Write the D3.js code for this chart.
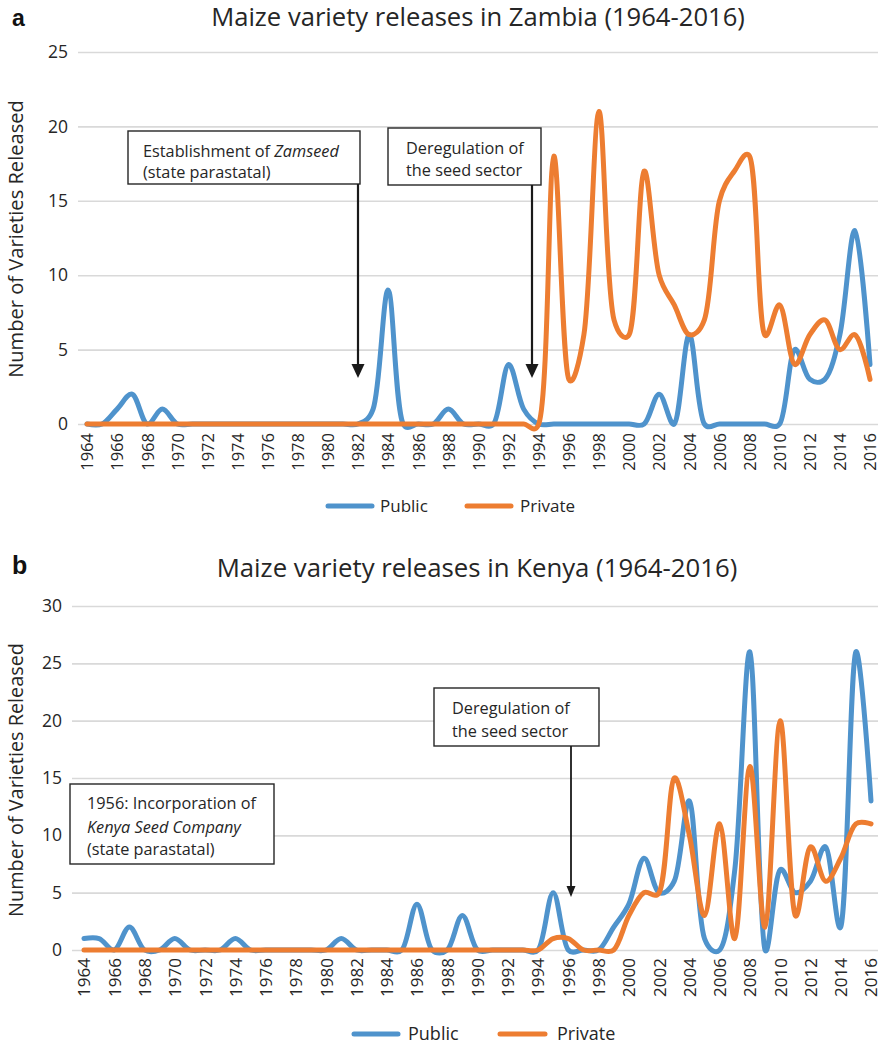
<!DOCTYPE html>
<html><head><meta charset="utf-8">
<script src="https://cdn.jsdelivr.net/npm/d3@7"></script>
<style>
body{margin:0;background:#fff}
svg{display:block}
text{font-family:"Open Sans",sans-serif;fill:#262626}
</style>
</head><body>
<svg id="c" width="885" height="1045"></svg>
<script>
// ---------------- DATA ----------------
const years = [1964,1965,1966,1967,1968,1969,1970,1971,1972,1973,1974,1975,1976,1977,1978,1979,1980,1981,1982,1983,1984,1985,1986,1987,1988,1989,1990,1991,1992,1993,1994,1995,1996,1997,1998,1999,2000,2001,2002,2003,2004,2005,2006,2007,2008,2009,2010,2011,2012,2013,2014,2015,2016];
const xTickYears = [1964,1966,1968,1970,1972,1974,1976,1978,1980,1982,1984,1986,1988,1990,1992,1994,1996,1998,2000,2002,2004,2006,2008,2010,2012,2014,2016];
const seriesNames = ["Public","Private"];

const zambiaPublic  = [0,0,1,2,0,1,0,0,0,0,0,0,0,0,0,0,0,0,0,1,9,0,0,0,1,0,0,0,4,1,0,0,0,0,0,0,0,0,2,0,6,0,0,0,0,0,0,5,3,3,6,13,4];
const zambiaPrivate = [0,0,0,0,0,0,0,0,0,0,0,0,0,0,0,0,0,0,0,0,0,0,0,0,0,0,0,0,0,0,0,18,3,6,21,7,6,17,10,8,6,7,15,17,18,6,8,4,6,7,5,6,3];
const zambiaYTicks = [0,5,10,15,20,25];

const kenyaPublic  = [1,1,0,2,0,0,1,0,0,0,1,0,0,0,0,0,0,1,0,0,0,0,4,0,0,3,0,0,0,0,0,5,0,0,0,2,4,8,5,6,13,1,0,7,26,0,7,5,6,9,2,26,13];
const kenyaPrivate = [0,0,0,0,0,0,0,0,0,0,0,0,0,0,0,0,0,0,0,0,0,0,0,0,0,0,0,0,0,0,0,1,1,0,0,0,3,5,5,15,10,3,11,1,16,2,20,3,9,6,8,11,11];
const kenyaYTicks = [0,5,10,15,20,25,30];

const colors = ["#4f93cc","#ed7d31"];

// ---------------- DRAW ----------------
const svg = d3.select("#c");

function fitText(sel, w){
  const l = sel.node().getComputedTextLength();
  const fs = parseFloat(sel.style("font-size"));
  sel.style("font-size", (fs*w/l)+"px");
  return fs*w/l;
}

function chart(o){
  const x = d3.scaleLinear().domain([years[0], years[years.length-1]]).range([o.x0, o.x1]);
  const y = d3.scaleLinear().domain([0, o.yMax]).range([o.y0, o.yTop]);
  const g = svg.append("g");

  g.append("text").attr("x",12).attr("y",o.letterY).text(o.letter)
    .style("font-family","'Liberation Sans',Arial,sans-serif").style("font-weight","bold")
    .style("font-size",o.letterSize+"px").style("fill","#111");

  const t = g.append("text").attr("x",o.titleX).attr("y",o.titleY).attr("text-anchor","middle")
    .style("font-size","21px").text(o.title);
  fitText(t, o.titleW);

  const ya = g.append("g").attr("transform",`translate(${o.gx0},0)`)
    .call(d3.axisLeft(y).tickValues(o.yTicks).tickSize(-(o.gx1-o.gx0)).tickPadding(10));
  ya.select(".domain").remove();
  ya.selectAll(".tick line").attr("stroke","#d9d9d9").attr("stroke-width",1.6);
  ya.selectAll(".tick text").style("font-size","17.5px").style("font-family","'Open Sans',sans-serif").attr("fill","#262626");

  const xa = g.append("g").attr("transform",`translate(0,${o.y0})`)
    .call(d3.axisBottom(x).tickValues(xTickYears).tickFormat(d3.format("d")).tickSize(0));
  xa.select(".domain").remove();
  xa.selectAll(".tick text").attr("y",0).attr("x",-o.xPad).attr("dy","0.35em")
    .attr("transform","rotate(-90)").style("text-anchor","end")
    .style("font-size",o.xFont+"px").style("font-family","'Open Sans',sans-serif").attr("fill","#262626");

  const yt = g.append("text").attr("transform",`translate(${o.ytX},${o.ytY}) rotate(-90)`)
    .attr("text-anchor","middle").style("font-size","18px").text("Number of Varieties Released");
  fitText(yt, o.ytW);

  const line = d3.line().x((d,i)=>x(years[i])).y(d=>y(d)).curve(d3.curveCatmullRom.alpha(0.3));
  o.series.forEach((s,k)=>{
    g.append("path").attr("d",line(s)).attr("fill","none").attr("stroke",colors[k])
      .attr("stroke-width",5).attr("stroke-linejoin","round").attr("stroke-linecap","round");
  });

  o.legend.forEach((L,k)=>{
    g.append("line").attr("x1",L.lx0).attr("x2",L.lx1).attr("y1",o.legY).attr("y2",o.legY)
      .attr("stroke",colors[k]).attr("stroke-width",5).attr("stroke-linecap","round");
    g.append("text").attr("x",L.tx).attr("y",o.legY).attr("dy","0.35em")
      .style("font-size",o.legFont+"px").text(seriesNames[k]);
  });

  o.notes.forEach(n=>{
    g.append("rect").attr("x",n.bx).attr("y",n.by).attr("width",n.bw).attr("height",n.bh)
      .attr("fill","#fff").attr("stroke","#262626").attr("stroke-width",1.4);
    n.lines.forEach((ln,i)=>{
      const tx = g.append("text").attr("x",n.tx).attr("y",n.ty[i]).style("font-size",annFont+"px");
      ln.forEach(part=>{
        tx.append("tspan").text(part.t).style("font-style",part.i?"italic":"normal");
      });
    });
    if(n.arrow){
      const a = n.arrow;
      g.append("line").attr("x1",a.x).attr("x2",a.x).attr("y1",n.by+n.bh).attr("y2",a.tip-a.h+1)
        .attr("stroke","#1a1a1a").attr("stroke-width",a.sw);
      g.append("path").attr("d",`M${a.x-a.w/2},${a.tip-a.h} L${a.x+a.w/2},${a.tip-a.h} L${a.x},${a.tip} Z`)
        .attr("fill","#1a1a1a");
    }
  });
}

let annFont = 15;
{
  const tmp = svg.append("text").style("font-size","15px").text("Deregulation of");
  annFont = 15*118/tmp.node().getComputedTextLength();
  tmp.remove();
}

chart({
  letter:"a", letterY:26, letterSize:23,
  title:"Maize variety releases in Zambia (1964-2016)", titleX:478, titleY:26, titleW:534,
  x0:87, x1:870, y0:424, yTop:52, yMax:25, yTicks:zambiaYTicks,
  gx0:78, gx1:878, xPad:9, xFont:16.5,
  ytX:23, ytY:239, ytW:278,
  series:[zambiaPublic, zambiaPrivate],
  legY:506, legFont:17,
  legend:[{lx0:328,lx1:372,tx:380},{lx0:467,lx1:511,tx:520}],
  notes:[
    {bx:128,by:131,bw:232,bh:53,tx:143,ty:[157,178],
     lines:[[{t:"Establishment of "},{t:"Zamseed",i:true}],[{t:"(state parastatal)"}]],
     arrow:{x:358,tip:378,w:13,h:14,sw:2.2}},
    {bx:388,by:128,bw:153,bh:57,tx:406,ty:[154,176],
     lines:[[{t:"Deregulation of"}],[{t:"the seed sector"}]],
     arrow:{x:532,tip:378,w:13,h:14,sw:2.2}}
  ]
});

chart({
  letter:"b", letterY:574, letterSize:25,
  title:"Maize variety releases in Kenya (1964-2016)", titleX:477, titleY:577, titleW:521,
  x0:84, x1:871, y0:950, yTop:606, yMax:30, yTicks:kenyaYTicks,
  gx0:72, gx1:878, xPad:8, xFont:17,
  ytX:23, ytY:780, ytW:274,
  series:[kenyaPublic, kenyaPrivate],
  legY:1034, legFont:18,
  legend:[{lx0:354,lx1:398,tx:408},{lx0:500,lx1:545,tx:557}],
  notes:[
    {bx:434,by:688,bw:165,bh:58,tx:452,ty:[714,737],
     lines:[[{t:"Deregulation of"}],[{t:"the seed sector"}]],
     arrow:{x:571,tip:897,w:9,h:11,sw:1.8}},
    {bx:70,by:784,bw:204,bh:80,tx:87,ty:[809,833,855],
     lines:[[{t:"1956: Incorporation of"}],[{t:"Kenya Seed Company",i:true}],[{t:"(state parastatal)"}]]}
  ]
});
</script>
</body></html>
